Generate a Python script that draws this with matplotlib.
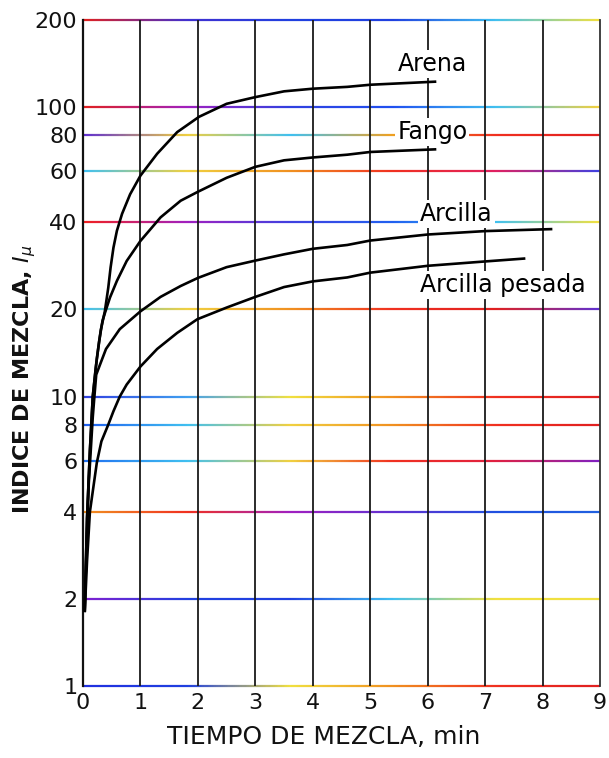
import numpy as np
import matplotlib
matplotlib.use("Agg")
import matplotlib.pyplot as plt
from matplotlib.collections import LineCollection
from matplotlib.colors import LinearSegmentedColormap

plt.rcParams['font.family'] = ['DejaVu Sans']
plt.rcParams['mathtext.fontset'] = 'dejavusans'

# mixing index curves (time in min, index I_mu)
arena_t = [0.03, 0.07, 0.12, 0.17, 0.24, 0.31, 0.38, 0.44, 0.48, 0.53, 0.59, 0.68, 0.82, 1.0,
           1.29, 1.64, 2.02, 2.5, 3.0, 3.5, 4.0, 4.6, 5.0, 6.15]
arena_i = [1.8, 3.8, 6.5, 10, 13.5, 17, 19.7, 23.8, 27.9, 32.7, 37.4, 42.8, 50, 58,
           69, 82, 92.6, 102.7, 108.3, 113.4, 115.8, 117.5, 119.5, 122.5]

fango_t = [0.03, 0.07, 0.12, 0.17, 0.22, 0.28, 0.34, 0.38, 0.47, 0.59, 0.76, 1.0, 1.35, 1.7,
           2.0, 2.5, 3.0, 3.5, 4.0, 4.6, 5.0, 6.15]
fango_i = [1.8, 3.8, 6.5, 10, 12.5, 15.5, 18.3, 19.4, 22, 25.1, 29.4, 34.5, 41.6, 47.5,
           51, 57, 62.2, 65.5, 67, 68.5, 70, 71.5]

arcilla_t = [0.04, 0.1, 0.17, 0.2, 0.23, 0.29, 0.4, 0.64, 1.0, 1.35, 1.7, 2.0, 2.5, 3.0,
             3.5, 4.0, 4.6, 5.0, 6.0, 7.0, 8.17]
arcilla_i = [2.2, 5, 8.5, 10.1, 11.9, 12.8, 14.6, 17.1, 19.7, 22.1, 24.1, 25.7, 28, 29.5,
             31, 32.4, 33.4, 34.6, 36.3, 37.3, 37.9]

pesada_t = [0.03, 0.07, 0.12, 0.24, 0.32, 0.44, 0.53, 0.64, 0.76, 1.0, 1.29, 1.64, 1.99, 2.5,
            3.0, 3.5, 4.0, 4.6, 5.0, 6.0, 7.0, 7.7]
pesada_i = [1.8, 2.7, 4, 5.9, 7.0, 8.0, 8.9, 10, 11, 12.7, 14.6, 16.6, 18.5, 20.3,
            22.1, 23.9, 25, 25.8, 26.8, 28.3, 29.3, 30]

y_ticks = [1, 2, 4, 6, 8, 10, 20, 40, 60, 80, 100, 200]
x_ticks = [0, 1, 2, 3, 4, 5, 6, 7, 8, 9]

# scan colour fringing on the horizontal rules (left -> right)
grid_colors = {
    1: ['#2030e0', '#2040e0', '#f0e040', '#f09020', '#f03020', '#e02020'],
    2: ['#8020d0', '#2040e0', '#2040e0', '#40c0f0', '#f0e040', '#f0e040'],
    4: ['#f09020', '#f03020', '#a020c0', '#6030d0', '#2050e0', '#2060e0'],
    6: ['#2070f0', '#40c0f0', '#f0d040', '#f03020', '#e02040', '#8020c0'],
    8: ['#2060f0', '#40c0f0', '#f0d040', '#f09020', '#f03020', '#e02020'],
    10: ['#3040e0', '#40a0f0', '#f0e040', '#f09020', '#f03020', '#e02020'],
    20: ['#40c0f0', '#f0d040', '#f09020', '#f03020', '#e02020', '#6030d0'],
    40: ['#f02020', '#a020c0', '#4040e0', '#2060f0', '#40c0f0', '#f0e040'],
    60: ['#40c0f0', '#f0d040', '#f09020', '#f03020', '#e02060', '#4040e0'],
    80: ['#6030d0', '#f0d040', '#40c0f0', '#f0a020', '#f03020', '#e02020'],
    100: ['#e02020', '#a020c0', '#3040e0', '#2050f0', '#40c0f0', '#f0d040'],
    200: ['#e02020', '#4030d0', '#2040e0', '#2040e0', '#40c0f0', '#f0e040'],
}

fig = plt.figure(figsize=(6.09, 7.58), dpi=100)
ax = fig.add_axes([0.1363, 0.095, 0.849, 0.8786])

ax.set_yscale('log')
ax.set_xlim(0, 9)
ax.set_ylim(1, 200)

# horizontal rules with a colour gradient
xs = np.linspace(0, 9, 300)
for level, stops in grid_colors.items():
    pts = np.column_stack([xs, np.full_like(xs, level)])
    segs = np.stack([pts[:-1], pts[1:]], axis=1)
    cmap = LinearSegmentedColormap.from_list('g%d' % level, stops)
    lc = LineCollection(segs, colors=cmap(np.linspace(0, 1, len(segs))),
                        linewidths=1.6, zorder=1, clip_on=False)
    ax.add_collection(lc)

for xv in x_ticks[1:-1]:
    ax.axvline(xv, color='#1a1a1a', lw=1.3, zorder=1)

for side in ['top', 'bottom']:
    ax.spines[side].set_visible(False)
ax.spines['left'].set_linewidth(1.6)
ax.spines['left'].set_color('#111111')
ax.spines['right'].set_linewidth(1.3)
ax.spines['right'].set_color('#333333')

for t, v in [(arena_t, arena_i), (fango_t, fango_i),
             (arcilla_t, arcilla_i), (pesada_t, pesada_i)]:
    ax.plot(t, v, color='black', lw=1.9, zorder=3, solid_capstyle='butt',
            solid_joinstyle='round')

box = dict(facecolor='white', edgecolor='none', pad=1.5)
ax.text(6.08, 141, 'Arena', fontsize=17, ha='center', va='center', bbox=box, zorder=4)
ax.text(6.08, 82, 'Fango', fontsize=17, ha='center', va='center', bbox=box, zorder=4)
ax.text(6.5, 42.8, 'Arcilla', fontsize=17, ha='center', va='center', bbox=box, zorder=4)
ax.text(7.3, 24.3, 'Arcilla pesada', fontsize=17, ha='center', va='center', bbox=box, zorder=4)

ax.set_xticks(x_ticks)
ax.set_xticklabels([str(v) for v in x_ticks])
ax.set_yticks(y_ticks)
ax.set_yticklabels([str(v) for v in y_ticks])
ax.minorticks_off()
ax.tick_params(axis='both', length=0, labelsize=16, colors='#111111')
ax.tick_params(axis='y', pad=4)
ax.tick_params(axis='x', pad=5)

fig.text(0.532, 0.028, 'TIEMPO DE MEZCLA, min', fontsize=18, ha='center', va='center',
         color='#111111')
fig.text(0.041, 0.499, r'INDICE DE MEZCLA, $I_\mu$', fontsize=16, fontweight='bold',
         rotation=90, ha='center', va='center', color='#111111')

fig.savefig('out.png', dpi=100, facecolor='white')
